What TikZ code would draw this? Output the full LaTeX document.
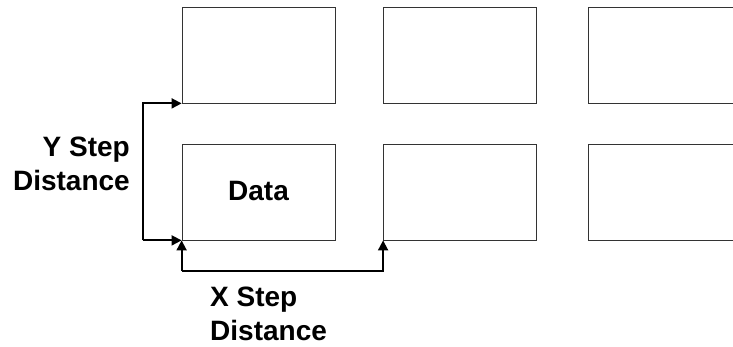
\documentclass[tikz,border=0pt]{standalone}
\usepackage{fontspec}
\setmainfont{Liberation Sans}
\usetikzlibrary{arrows.meta}
\tikzset{
    grid-box/.style = {draw=black!80, line width=0.8pt, rectangle, minimum width=153pt, minimum height=96pt, inner sep=0pt},
    step-arrow/.style = {line width=1.8pt, -{Triangle[length=10pt, width=10pt]}},
    step-label/.style = {inner sep=0pt, font=\fontsize{28}{34}\selectfont\bfseries},
}
\begin{document}
\begin{tikzpicture}[x=1pt, y=-1pt]
\useasboundingbox (0,0) rectangle (733,347);
\node [grid-box] (box11) at (258.5,55) {};
\node [grid-box] (box12) at (460,55) {};
\node [grid-box] (box13) at (664.5,55) {};
\node [grid-box] (box21) at (258.5,192) {};
\node [grid-box] (box22) at (460,192) {};
\node [grid-box] (box23) at (664.5,192) {};
\node [step-label] (data) at (258.5,191) {Data};
\coordinate (ystep) at (143,192);
\coordinate (xstep) at (300,271);
\draw [step-arrow] (ystep |- box21.south west) -- (box21.south west);
\draw [step-arrow] (ystep |- box21.south west) -- (ystep |- box11.south west) -- (box11.south west);
\draw [step-arrow] (box21.south west |- xstep) -- (box21.south west);
\draw [step-arrow] (box21.south west |- xstep) -- (box22.south west |- xstep) -- (box22.south west);
\node [step-label, align=right, anchor=north east] (ylabel) at (130,137) {Y Step\\Distance};
\node [step-label, align=left, anchor=north west] (xlabel) at (210,287) {X Step\\Distance};
\end{tikzpicture}
\end{document}
